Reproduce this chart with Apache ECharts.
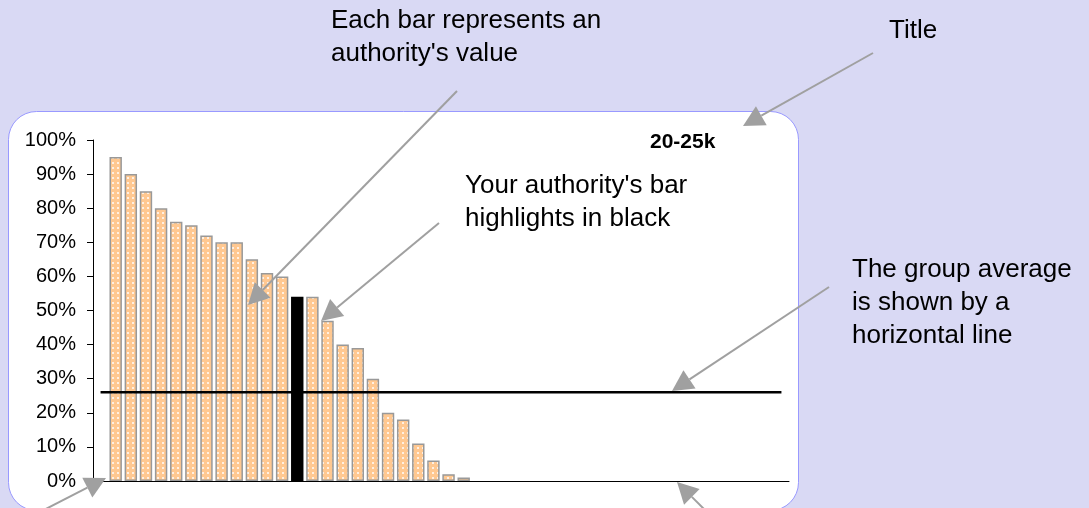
<!DOCTYPE html>
<html>
<head>
<meta charset="utf-8">
<script src="https://cdn.jsdelivr.net/npm/echarts@6/dist/echarts.min.js"></script>
<style>
html,body{margin:0;padding:0;background:#D9D9F4;}
#chart{width:1089px;height:508px;}
</style>
</head>
<body>
<div id="chart"></div>
<script>
// ---- data ----
var categories = ['A01','A02','A03','A04','A05','A06','A07','A08','A09','A10',
  'A11','A12','A13','A14','A15','A16','A17','A18','A19','A20',
  'A21','A22','A23','A24','A25','A26','A27','A28','A29','A30',
  'A31','A32','A33','A34','A35','A36','A37','A38','A39','A40',
  'A41','A42','A43','A44','A45','A46'];
var values = [null, 95, 90, 85, 80, 76, 75, 72, 70, 70, 65, 61, 60, 54, 54, 47, 40, 39, 30, 20, 18, 11, 6, 2, 1,
  null, null, null, null, null, null, null, null, null, null,
  null, null, null, null, null, null, null, null, null, null, null];
var highlightIndex = 13;       // your authority
var groupAverage = 26;         // group average (%)
var yTicks = [0, 10, 20, 30, 40, 50, 60, 70, 80, 90, 100];
var chartTitle = '20-25k';

// ---- styles ----
function makePattern() {
  var c = document.createElement('canvas');
  c.width = 5; c.height = 5;
  var g = c.getContext('2d');
  g.fillStyle = '#FFC891';
  g.fillRect(0, 0, 5, 5);
  g.fillStyle = '#FFF0E2';
  g.fillRect(2, 2, 2, 2);
  return c;
}
var pattern = { image: makePattern(), repeat: 'repeat' };

var barData = values.map(function (v, i) {
  if (i === highlightIndex) {
    return { value: v, itemStyle: { color: '#000000', borderColor: '#000000' } };
  }
  return v;
});
var avgData = categories.map(function () { return groupAverage; });

var FONT = 'Liberation Sans, Arial, sans-serif';
var ARROW = '#A0A0A0';

function arrow(x1, y1, x2, y2) {
  var dx = x2 - x1, dy = y2 - y1;
  var len = Math.sqrt(dx * dx + dy * dy);
  var ux = dx / len, uy = dy / len;
  var hl = 21, hw = 11;
  var bx = x2 - ux * hl, by = y2 - uy * hl;
  var px = -uy, py = ux;
  return [
    { type: 'line', z: 100, shape: { x1: x1, y1: y1, x2: bx, y2: by },
      style: { stroke: ARROW, lineWidth: 2 } },
    { type: 'polygon', z: 100, shape: { points: [[x2, y2], [bx + px * hw, by + py * hw], [bx - px * hw, by - py * hw]] },
      style: { fill: ARROW } }
  ];
}

function note(x, y, text) {
  return { type: 'text', z: 100, style: { x: x, y: y, text: text, fontSize: 26, lineHeight: 33,
    fontFamily: FONT, fill: '#000', verticalAlign: 'top', align: 'left' } };
}

var graphics = [
  { type: 'rect', z: -10, shape: { x: 8.5, y: 111.5, width: 790, height: 399, r: 28 },
    style: { fill: '#FFFFFF', stroke: '#9999FF', lineWidth: 1 } },
  note(331, 4.5, 'Each bar represents an\nauthority\'s value'),
  note(465, 169.5, 'Your authority\'s bar\nhighlights in black'),
  note(889, 14.5, 'Title'),
  note(852, 253, 'The group average\nis shown by a\nhorizontal line')
]
.concat(arrow(457, 91, 248, 305))
.concat(arrow(439, 223, 321, 321))
.concat(arrow(873, 53, 743, 126))
.concat(arrow(829, 287, 672, 391))
.concat(arrow(36, 514, 106, 478))
.concat(arrow(710, 515, 677, 482));

var chart = echarts.init(document.getElementById('chart'), null, { renderer: 'canvas' });
chart.setOption({
  backgroundColor: '#D9D9F4',
  animation: false,
  title: {
    text: chartTitle, left: 650, top: 132, padding: 0,
    textStyle: { fontSize: 21, fontWeight: 'bold', fontFamily: FONT, color: '#000' }
  },
  grid: { left: 93, right: 300, top: 140, bottom: 27, containLabel: false },
  xAxis: {
    type: 'category', data: categories, boundaryGap: true,
    axisLine: { lineStyle: { color: '#000', width: 1 } },
    axisTick: { show: false }, axisLabel: { show: false }, splitLine: { show: false }
  },
  yAxis: {
    type: 'value', min: yTicks[0], max: yTicks[yTicks.length - 1], interval: yTicks[1] - yTicks[0],
    axisLine: { show: true, lineStyle: { color: '#000', width: 1 } },
    axisTick: { show: true, length: 6, lineStyle: { color: '#000' } },
    axisLabel: { formatter: '{value}%', fontSize: 20, fontFamily: FONT, color: '#000', margin: 17 },
    splitLine: { show: false }
  },
  series: [
    {
      type: 'bar', data: barData, barCategoryGap: '18%',
      itemStyle: { color: pattern, borderColor: '#999999', borderWidth: 1.5 },
      z: 2
    },
    {
      type: 'line', data: avgData, symbol: 'none', z: 3,
      lineStyle: { color: '#000', width: 2.5 }
    }
  ],
  graphic: graphics
});
</script>
</body>
</html>
